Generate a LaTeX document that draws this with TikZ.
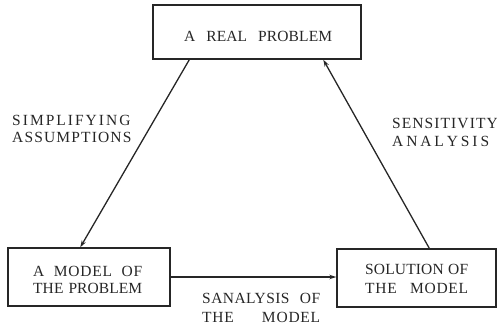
\documentclass[tikz,border=0pt]{standalone}
\usepackage{fontspec}
\setmainfont{Liberation Serif}
\usetikzlibrary{arrows.meta}
\definecolor{ink}{gray}{0.15}
% a line of text with tracking #1, stretched to width #2 (pt)
\newcommand\tline[3]{{\addfontfeature{LetterSpace=#1}\makebox[#2pt][s]{#3}}}
% a single word with tracking #1
\newcommand\tword[2]{{\addfontfeature{LetterSpace=#1}#2}}
\begin{document}
\begin{tikzpicture}[x=1pt,y=-1pt,
  box/.style={draw=ink, line width=1.4pt, rectangle, inner sep=0pt},
  lbl/.style={anchor=base west, inner sep=0pt, text=ink, font=\fontsize{15.5}{18}\selectfont},
  conn/.style={draw=ink, line width=1.3pt, -{Stealth[length=7pt,width=4.5pt]}}]
\useasboundingbox (0,0) rectangle (497,326);

% boxes
\node[box, minimum width=208pt, minimum height=54pt] (real) at (257,32) {};
\node[box, minimum width=162pt, minimum height=58pt] (model) at (89,277) {};
\node[box, minimum width=159pt, minimum height=58pt] (sol) at (416.5,278) {};

% texts inside the boxes
\node[lbl] (realtxt) at (184,41.5) {\tline{1}{148}{A REAL PROBLEM}};
\node[lbl] (modeltxt1) at (33,276.5) {\tline{5}{109}{A MODEL OF}};
\node[lbl] (modeltxt2) at (33,293.5) {\tline{0.5}{109}{THE PROBLEM}};
\node[lbl] (soltxt1) at (365,274.5) {\tline{1}{103}{SOLUTION OF}};
\node[lbl] (soltxt2) at (365,293.5) {\tline{5}{103}{THE MODEL}};

% connector labels
\node[lbl] (simp1) at (12,125.5) {\tword{13}{SIMPLIFYING}};
\node[lbl] (simp2) at (12,142.5) {\tword{7.5}{ASSUMPTIONS}};
\node[lbl] (sens1) at (392,128.5) {\tword{7}{SENSITIVITY}};
\node[lbl] (sens2) at (392,146.5) {\tline{0}{97}{A N A L Y S I S}};
\node[lbl] (anl1) at (202,303.5) {\tline{3}{118}{SANALYSIS OF}};
\node[lbl] (anl2) at (202,322.5) {\tline{5}{118}{THE MODEL}};

% connectors
\draw[conn] ([xshift=37pt]real.south west) -- ([xshift=73pt]model.north west);
\draw[conn] (model.east) -- (model.east -| sol.west);
\draw[conn] ([xshift=93pt]sol.north west) -- ([xshift=171pt]real.south west);
\end{tikzpicture}
\end{document}
